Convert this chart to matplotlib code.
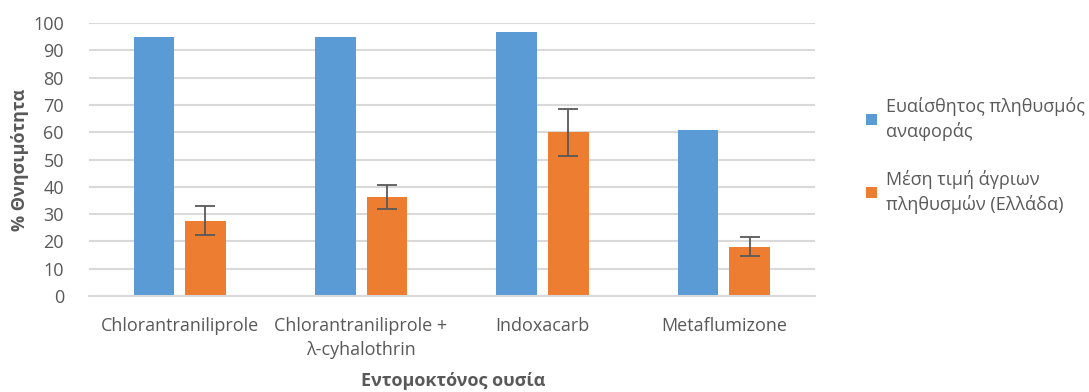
import numpy as np
import matplotlib.pyplot as plt

plt.rcParams['font.family'] = ['Open Sans', 'DejaVu Sans']

# Data
categories = ["Chlorantraniliprole", "Chlorantraniliprole +\nλ-cyhalothrin",
              "Indoxacarb", "Metaflumizone"]
reference = [95, 95, 96.6, 61]
field_mean = [27.5, 36.2, 60, 18]
field_err = [5.3, 4.3, 8.6, 3.5]
series_names = ["Ευαίσθητος πληθυσμός\nαναφοράς", "Μέση τιμή άγριων\nπληθυσμών (Ελλάδα)"]

text_col = '#595959'
blue = '#5b9bd5'
orange = '#ed7d31'

fig = plt.figure(figsize=(10.89, 3.92), dpi=100)
ax = fig.add_axes([0.0817, 0.245, 0.6663, 0.696])

x = np.arange(len(categories))
w = 0.224
off = 0.142
ax.bar(x - off, reference, w, color=blue, label=series_names[0], zorder=2)
ax.bar(x + off, field_mean, w, color=orange, label=series_names[1], zorder=2)
ax.errorbar(x + off, field_mean, yerr=field_err, fmt='none', ecolor='#595959',
            elinewidth=1.3, capsize=7, capthick=1.3, zorder=3)

ax.set_xlim(-0.5, len(categories) - 0.5)
ax.set_ylim(0, 100)
ax.set_yticks(range(0, 101, 10))
ax.yaxis.grid(True, color='#d9d9d9', linewidth=1.5, zorder=0)
ax.set_axisbelow(True)
for s in ['top', 'right', 'left']:
    ax.spines[s].set_visible(False)
ax.spines['bottom'].set_color('#d9d9d9')
ax.spines['bottom'].set_linewidth(1.5)
ax.tick_params(axis='both', length=0, labelsize=13, colors=text_col)
ax.tick_params(axis='y', pad=18)
ax.set_xticks(x)
ax.set_xticklabels(categories, linespacing=1.45)
ax.tick_params(axis='x', pad=15)

ax.set_ylabel("% Θνησιμότητα", fontsize=13, fontweight='bold', color=text_col, labelpad=3)
fig.text(0.416, 0.005, "Εντομοκτόνος ουσία", fontsize=13, fontweight='bold',
         color=text_col, ha='center', va='bottom')

leg = fig.legend(loc='upper left', bbox_to_anchor=(0.78, 0.795), frameon=False,
                 labelcolor=text_col, handlelength=0.6, handleheight=0.6,
                 handletextpad=0.5, labelspacing=1.6, prop={'size': 13})
for t in leg.get_texts():
    t.set_linespacing(1.42)

fig.savefig('out.png', dpi=100)
